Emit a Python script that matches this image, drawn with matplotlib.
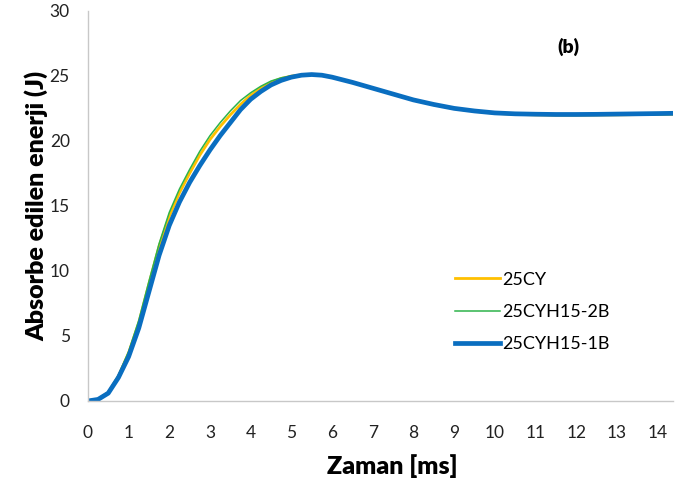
import matplotlib
matplotlib.use('Agg')
import matplotlib.pyplot as plt

# time axis (ms)
zaman = [0, 0.25, 0.5, 0.75, 1.0, 1.25, 1.5, 1.75, 2.0, 2.25, 2.5, 2.75, 3.0,
         3.25, 3.5, 3.75, 4.0, 4.25, 4.5, 4.75, 5.0, 5.25, 5.5, 5.75, 6.0,
         6.5, 7.0, 7.5, 8.0, 8.5, 9.0, 9.5, 10.0, 10.5, 11.0, 11.5, 12.0,
         12.5, 13.0, 13.5, 14.0, 14.4]

# absorbed energy (J)
e_25cy = [0, 0.14, 0.65, 1.9, 3.7, 6.0, 9.0, 11.9, 14.2, 16.0, 17.5, 18.9, 20.1,
          21.1, 22.0, 22.8, 23.5, 24.05, 24.5, 24.8, 24.98, 25.07, 25.1, 25.04, 24.9,
          24.5, 24.05, 23.6, 23.15, 22.78, 22.48, 22.28, 22.12, 22.04, 22.0, 21.98, 21.98,
          21.99, 22.0, 22.02, 22.04, 22.05]
e_2b = [0, 0.15, 0.7, 2.0, 3.8, 6.2, 9.2, 12.1, 14.5, 16.3, 17.8, 19.2, 20.4,
        21.4, 22.3, 23.1, 23.7, 24.2, 24.6, 24.85, 25.0, 25.08, 25.1, 25.03, 24.88,
        24.48, 24.02, 23.58, 23.12, 22.76, 22.46, 22.26, 22.1, 22.02, 21.98, 21.96, 21.96,
        21.97, 21.98, 22.0, 22.02, 22.03]
e_1b = [0, 0.12, 0.6, 1.8, 3.4, 5.6, 8.4, 11.2, 13.5, 15.3, 16.8, 18.1, 19.3,
        20.4, 21.4, 22.4, 23.2, 23.8, 24.3, 24.65, 24.9, 25.05, 25.1, 25.05, 24.9,
        24.5, 24.05, 23.6, 23.15, 22.8, 22.5, 22.3, 22.15, 22.08, 22.05, 22.03, 22.03,
        22.04, 22.06, 22.08, 22.1, 22.12]

plt.rcParams['font.family'] = ['Lato', 'DejaVu Sans']

fig = plt.figure(figsize=(6.92, 4.92), dpi=100)
ax = fig.add_axes([0.127, 0.185, 0.845, 0.793])

ax.plot(zaman, e_25cy, color='#FFC000', lw=2.0, label='25CY')
ax.plot(zaman, e_2b, color='#2DB34A', lw=1.1, label='25CYH15-2B')
ax.plot(zaman, e_1b, color='#0A6EC0', lw=3.4, label='25CYH15-1B')

ax.set_xlim(0, 14.37)
ax.set_ylim(0, 30)
ax.set_xticks(range(0, 15))
ax.set_yticks(range(0, 31, 5))
ax.tick_params(length=0, labelsize=12.5, colors='#222222')
ax.tick_params(axis='x', pad=17)
ax.tick_params(axis='y', pad=13)

for side in ['top', 'right']:
    ax.spines[side].set_visible(False)
for side in ['left', 'bottom']:
    ax.spines[side].set_color('#C8C8C8')
    ax.spines[side].set_linewidth(1.0)

ax.set_xlabel('Zaman [ms]', fontsize=18, fontweight='heavy', labelpad=10)
ax.xaxis.label.set_x(0.52)
ax.set_ylabel('Absorbe edilen enerji (J)', fontsize=18, fontweight='heavy', labelpad=1)

ax.text(0.822, 0.908, '(b)', transform=ax.transAxes, fontsize=14, fontweight='heavy',
        ha='center', va='center')

ax.legend(loc='center left', bbox_to_anchor=(0.6, 0.228), frameon=False, fontsize=13,
          handlelength=2.5, handletextpad=0.1, labelspacing=0.9)

fig.savefig('out.png', dpi=100)
